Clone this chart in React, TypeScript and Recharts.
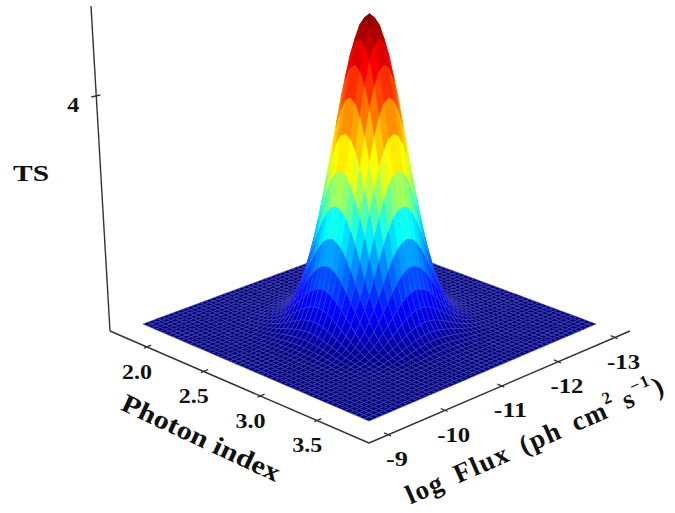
import React from "react";
import { ScatterChart, Scatter, XAxis, YAxis } from "recharts";

// Cross-section of the TS surface along each axis (51 mesh nodes).
const indexProfile = [0,0,0,0.0002,0.0004,0.0008,0.0016,0.0031,0.0058,0.0105,0.018,0.031,0.049,0.077,0.116,0.169,0.237,0.32,0.418,0.527,0.641,0.752,0.852,0.931,0.982,1,0.982,0.931,0.852,0.752,0.641,0.527,0.418,0.32,0.237,0.169,0.116,0.077,0.049,0.031,0.018,0.0105,0.0058,0.0031,0.0016,0.0008,0.0004,0.0002,0,0,0];
const fluxProfile = [0,0,0,0.0002,0.0004,0.0008,0.0016,0.0031,0.0058,0.0105,0.018,0.031,0.049,0.077,0.116,0.169,0.237,0.32,0.418,0.527,0.641,0.752,0.852,0.931,0.982,1,0.982,0.931,0.852,0.752,0.641,0.527,0.418,0.32,0.237,0.169,0.116,0.077,0.049,0.031,0.018,0.0105,0.0058,0.0031,0.0016,0.0008,0.0004,0.0002,0,0,0];
const tsPeak = 5.28;
const indexTicks = [2.0, 2.5, 3.0, 3.5];
const indexTickLabels = ["2.0", "2.5", "3.0", "3.5"];
const fluxTicks = [-9, -10, -11, -12, -13];
const fluxTickLabels = ["-9", "-10", "-11", "-12", "-13"];
const tsTicks = [4];
const tsTickLabels = ["4"];
// colour position on the jet ramp for a relative height
const colorHeights = [0, 0.2, 0.35, 0.5, 0.65, 0.85, 1];
const colorLevels = [0, 0.2, 0.37, 0.58, 0.7, 0.88, 1];

const W = 675, H = 513;
const FONT = "'Liberation Serif', serif";

// view geometry
const QL = [143, 324], QB = [369, 421], QR = [596, 324], QK = [370, 240];
const AL = [110, 331], AB = [369, 443], AR = [630, 331], AT = [91, 6];
const PX_PER_TS = 58.75;
const LEAN = 0.000225;

function makeHomography() {
  const [x0, y0] = QL, [x1, y1] = QB, [x2, y2] = QR, [x3, y3] = QK;
  const dx1 = x1 - x2, dx2 = x3 - x2, sx = x0 - x1 + x2 - x3;
  const dy1 = y1 - y2, dy2 = y3 - y2, sy = y0 - y1 + y2 - y3;
  const det = dx1 * dy2 - dx2 * dy1;
  const g = (sx * dy2 - dx2 * sy) / det;
  const h = (dx1 * sy - sx * dy1) / det;
  const a = x1 - x0 + g * x1, b = x3 - x0 + h * x3, c = x0;
  const d = y1 - y0 + g * y1, e = y3 - y0 + h * y3, f = y0;
  return (u: number, v: number) => {
    const w = g * u + h * v + 1;
    return [(a * u + b * v + c) / w, (d * u + e * v + f) / w];
  };
}
const plane = makeHomography();

function project(u: number, v: number, ts: number) {
  const [x, y] = plane(u, v);
  const lift = ts * PX_PER_TS;
  return { px: x + (x - 370) * LEAN * lift, py: y - lift };
}

const clamp = (c: number) => Math.max(0, Math.min(1, c));
function level(z: number) {
  for (let i = 1; i < colorHeights.length; i++) {
    if (z <= colorHeights[i]) {
      const t = (z - colorHeights[i - 1]) / (colorHeights[i] - colorHeights[i - 1]);
      return colorLevels[i - 1] + t * (colorLevels[i] - colorLevels[i - 1]);
    }
  }
  return 1;
}
function jetRGB(c: number) {
  return [clamp(1.5 - Math.abs(4 * c - 3)), clamp(1.5 - Math.abs(4 * c - 2)), clamp(1.5 - Math.abs(4 * c - 1))];
}
const toCss = (rgb: number[]) => `rgb(${rgb.map((k) => Math.round(k * 255)).join(",")})`;

const nI = indexProfile.length, nF = fluxProfile.length;
const tsAt = (i: number, j: number) => tsPeak * indexProfile[i] * fluxProfile[j];

type Cell = { px: number; py: number; pts: number[][]; fill: string; stroke: string };
const cells: Cell[] = [];
for (let i = 0; i < nI - 1; i++) {
  for (let j = nF - 2; j >= 0; j--) {
    const corners = [[i, j], [i + 1, j], [i + 1, j + 1], [i, j + 1]].map(([a, b]) =>
      project(a / (nI - 1), b / (nF - 1), tsAt(a, b))
    );
    const mean = (tsAt(i, j) + tsAt(i + 1, j) + tsAt(i + 1, j + 1) + tsAt(i, j + 1)) / 4 / tsPeak;
    const rgb = jetRGB(level(mean));
    const w = 0.28 * Math.max(0, 1 - mean * 3);
    const stroke = rgb.map((k) => k + (1 - k) * w);
    cells.push({
      px: corners[0].px,
      py: corners[0].py,
      pts: corners.map((c) => [c.px - corners[0].px, c.py - corners[0].py]),
      fill: toCss(rgb),
      stroke: toCss(stroke),
    });
  }
}

const CellShape = (p: any) => {
  const c: Cell = p.payload;
  const pts = c.pts.map(([x, y]) => `${p.cx + x},${p.cy + y}`).join(" ");
  return <polygon points={pts} fill={c.fill} stroke={c.stroke} strokeWidth={0.6} />;
};

const along = (A: number[], B: number[], t: number) => [A[0] + (B[0] - A[0]) * t, A[1] + (B[1] - A[1]) * t];
const indexFrac = (x: number) => (x - 1.673) * 0.438;
const fluxFrac = (f: number) => (-9 - f) * 0.217 + 0.073;
const tsFrac = (t: number) => (t * PX_PER_TS) / (AL[1] - AT[1]);

const seg = (a: number[], b: number[]) => [{ px: a[0], py: a[1] }, { px: b[0], py: b[1] }];

const frame = [seg(AL, AB), seg(AB, AR), seg(AL, AT)];
const tickSegs = [
  ...indexTicks.map((x) => { const q = along(AL, AB, indexFrac(x)); return seg([q[0] - 3, q[1] + 1], [q[0] + 4, q[1] - 2]); }),
  ...fluxTicks.map((f) => { const q = along(AB, AR, fluxFrac(f)); return seg([q[0] - 4, q[1] - 2], [q[0] + 3, q[1] + 1]); }),
  ...tsTicks.map((t) => { const q = along(AL, AT, tsFrac(t)); return seg([q[0] - 5, q[1] + 1], [q[0] + 4, q[1] - 1]); }),
];

type Lab = { px: number; py: number; text: React.ReactNode; size: number; angle: number; len?: number; spacing?: number };
const labels: Lab[] = [
  ...indexTicks.map((x, i) => { const q = along(AL, AB, indexFrac(x)); return { px: q[0] - 10, py: q[1] + 24.5, text: indexTickLabels[i], size: 21, angle: 0, len: 30 }; }),
  ...fluxTicks.map((f, i) => { const q = along(AB, AR, fluxFrac(f)); return { px: q[0] + 9, py: q[1] + 24, text: fluxTickLabels[i], size: 21, angle: 0, len: fluxTickLabels[i].length > 2 ? 33 : 22 }; }),
  ...tsTicks.map((t, i) => { const q = along(AL, AT, tsFrac(t)); return { px: q[0] - 23, py: q[1] + 9, text: tsTickLabels[i], size: 21, angle: 0, len: 12 }; }),
  { px: 31, py: 173, text: "TS", size: 24, angle: 0, len: 36 },
  { px: 201, py: 438, text: "Photon index", size: 26, angle: 25, len: 172 },
  {
    px: 535, py: 440, angle: -23.7, size: 27, spacing: 1.5,
    text: (
      <>
        log Flux (ph cm<tspan dy={-10} fontSize={17}>2</tspan>
        <tspan dy={10} dx={8}>s</tspan>
        <tspan dy={-10} fontSize={17}>−1</tspan>
        <tspan dy={10}>)</tspan>
      </>
    ),
  },
];

const LabelShape = (p: any) => {
  const l: Lab = p.payload;
  const extra = l.len ? { textLength: l.len, lengthAdjust: "spacingAndGlyphs" } : {};
  return (
    <text
      x={p.cx}
      y={p.cy}
      textAnchor="middle"
      dominantBaseline="central"
      fontFamily={FONT}
      fontWeight="bold"
      fontSize={l.size}
      fill="#111"
      letterSpacing={l.spacing}
      wordSpacing={l.spacing ? 5 : undefined}
      transform={`rotate(${l.angle} ${p.cx} ${p.cy})`}
      {...extra}
    >
      {l.text}
    </text>
  );
};
const None = () => null;

export default function App() {
  return (
    <div style={{ position: "absolute", left: 0, top: 0, width: W, height: H }}>
      <ScatterChart width={W} height={H} margin={{ top: 0, right: 0, bottom: 0, left: 0 }}>
        <XAxis type="number" dataKey="px" domain={[0, W]} hide allowDataOverflow />
        <YAxis type="number" dataKey="py" domain={[0, H]} reversed hide allowDataOverflow />
        {frame.map((d, i) => (
          <Scatter key={`f${i}`} data={d} line={{ stroke: "#333", strokeWidth: 1.4 }} shape={None} isAnimationActive={false} />
        ))}
        {tickSegs.map((d, i) => (
          <Scatter key={`t${i}`} data={d} line={{ stroke: "#333", strokeWidth: 1.3 }} shape={None} isAnimationActive={false} />
        ))}
        <Scatter data={cells} shape={CellShape} isAnimationActive={false} />
        <Scatter data={labels} shape={LabelShape} isAnimationActive={false} />
      </ScatterChart>
    </div>
  );
}
